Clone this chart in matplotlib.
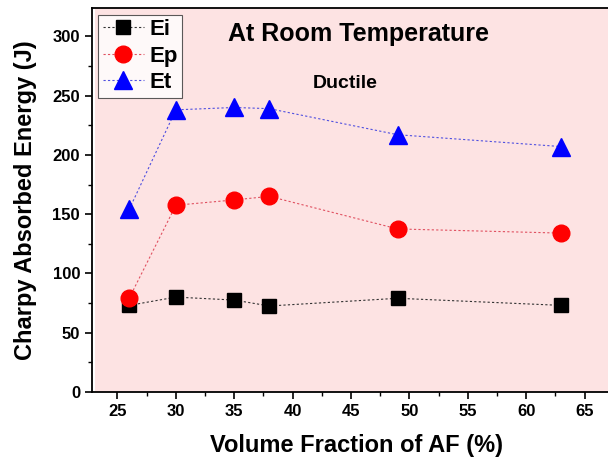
import matplotlib

matplotlib.use("Agg")
import matplotlib.pyplot as plt
from matplotlib.patches import Rectangle
from matplotlib.ticker import MultipleLocator

plt.rcParams.update({"font.family": "Liberation Sans", "font.weight": "bold"})

# Charpy energies vs acicular ferrite fraction
af_frac = [26, 30, 35, 38, 49, 63]
e_i = [73, 80, 77.5, 72.5, 79, 73]
e_p = [79, 157.5, 162, 165, 137.5, 134]
e_t = [154, 238, 240, 239, 217, 207]

PINK = "#FDE3E3"

fig = plt.figure(figsize=(6.08, 4.66), dpi=100)
fig.patch.set_facecolor("white")
ax = fig.add_axes([0.151, 0.159, 0.87, 0.824])
ax.set_facecolor("white")
# shaded plot area, leaving a thin white strip by the y axis
ax.add_patch(Rectangle((0.006, 0), 1.0, 1.0, transform=ax.transAxes,
                       facecolor=PINK, edgecolor="none", zorder=0))

ax.plot(af_frac, e_i, ls=(0, (2, 2)), lw=0.8, color="#333333",
        marker="s", ms=10.5, mfc="black", mec="black", label="Ei")
ax.plot(af_frac, e_p, ls=(0, (2, 2)), lw=0.8, color="#E05060",
        marker="o", ms=12, mfc="red", mec="red", label="Ep")
ax.plot(af_frac, e_t, ls=(0, (2, 2)), lw=0.8, color="#5050E0",
        marker="^", ms=13.5, mfc="blue", mec="blue", label="Et")

ax.set_xlim(22.8, 68.1)
ax.set_ylim(0, 324)
ax.xaxis.set_major_locator(MultipleLocator(5))
ax.xaxis.set_minor_locator(MultipleLocator(2.5))
ax.yaxis.set_major_locator(MultipleLocator(50))
ax.yaxis.set_minor_locator(MultipleLocator(25))
ax.tick_params(which="major", direction="out", length=5, width=1.2,
               labelsize=12)
ax.tick_params(which="minor", direction="out", length=3, width=1.0)
ax.spines["right"].set_visible(False)
for s in ("left", "bottom", "top"):
    ax.spines[s].set_linewidth(1.3)

ax.set_xlabel("Volume Fraction of AF (%)", fontsize=17, fontweight="bold",
              labelpad=11)
ax.set_ylabel("Charpy Absorbed Energy (J)", fontsize=17, fontweight="bold",
              labelpad=11)

ax.text(45.6, 302, "At Room Temperature", fontsize=18, fontweight="bold",
        ha="center", va="center")
ax.text(44.5, 260, "Ductile", fontsize=14, fontweight="bold",
        ha="center", va="center")

leg = ax.legend(loc="upper left", bbox_to_anchor=(0.0, 1.0),
                fontsize=16, frameon=True, fancybox=False, handlelength=1.85,
                borderpad=0.2, labelspacing=0.25, handletextpad=0.25,
                borderaxespad=0.3)
leg.get_frame().set_edgecolor("#333333")
leg.get_frame().set_facecolor("white")
leg.get_frame().set_linewidth(0.8)

fig.savefig("out.png", dpi=100, facecolor="white")
